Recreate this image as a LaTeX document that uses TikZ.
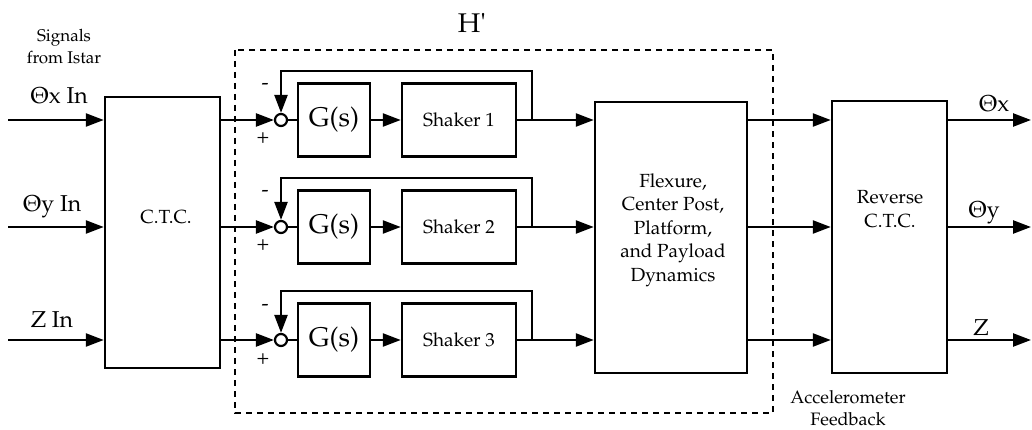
\documentclass[tikz,border=0pt]{standalone}
\usepackage[T1]{fontenc}
\usepackage{mathpazo}
\usetikzlibrary{arrows.meta}

\tikzset{
  wire/.style={line width=2.4pt},
  arr/.style={wire, -{Triangle[length=18pt,width=13pt]}},
  blk/.style={draw, line width=2.5pt, inner sep=0pt, align=center,
              font=\fontsize{19}{24}\selectfont},
  gblk/.style={blk, minimum width=72pt, minimum height=73pt,
               font=\fontsize{27}{30}\selectfont},
  shk/.style={blk, minimum width=114pt, minimum height=73pt},
  sumj/.style={draw, circle, line width=2.2pt, minimum size=12pt, inner sep=0pt},
  lbl/.style={inner sep=0pt, anchor=base, align=center,
              font=\fontsize{19}{23.5}\selectfont},
  biglbl/.style={lbl, font=\fontsize{23}{26}\selectfont},
  sgn/.style={lbl, font=\fontsize{21}{22}\selectfont},
  hbound/.style={line width=2.2pt, dash pattern=on 6pt off 5pt}
}

\begin{document}
\begin{tikzpicture}[x=1pt, y=-1pt]
\useasboundingbox (0,0) rectangle (1032,430);

% main blocks (multi-line labels are anchored at the baseline of their last line)
\node[blk, minimum width=115pt, minimum height=271pt] (ctc) at (162.5,232.5) {};
\node[lbl] (ctct) at (166,223) {C.T.C.};
\node[blk, minimum width=152pt, minimum height=271pt] (flex) at (671,237.5) {};
\node[lbl] (flext) at (673,281) {Flexure,\\ Center Post,\\ Platform,\\ and Payload\\ Dynamics};
\node[blk, minimum width=115pt, minimum height=272pt] (rev) at (889.5,237) {};
\node[lbl] (revt) at (890,227) {Reverse\\ C.T.C.};

% boundary of H'
\draw[hbound] (235,50) rectangle (773,413);
\node[lbl, font=\fontsize{27}{30}\selectfont] (hp) at (472,33) {H\textquotesingle};

% input labels
\node[lbl, font=\fontsize{17}{22}\selectfont] (sig) at (64,64) {Signals\\ from Istar};
\node[biglbl] (ixl) at (59,104) {$\Theta$x In};
\node[biglbl] (iyl) at (52,212) {$\Theta$y In};
\node[biglbl] (izl) at (52,327) {Z In};

% output labels
\node[biglbl] (oxl) at (994,112) {$\Theta$x};
\node[biglbl] (oyl) at (984,218) {$\Theta$y};
\node[biglbl] (ozl) at (981,335) {Z};

% accelerometer note
\node[lbl, font=\fontsize{18}{22}\selectfont] (acc) at (848,425) {Accelerometer\\ Feedback};

% three actuator loops
\foreach \i/\r in {1/120, 2/227, 3/340} {
  \coordinate (in\i) at (8,\r);
  \coordinate (out\i) at (1031,\r);
  \coordinate (tap\i) at (532,\r);
  \node[sumj] (s\i) at (281,\r) {};
  \node[gblk] (g\i) at (334,\r) {G(s)};
  \node[shk] (sh\i) at (459,\r) {Shaker \i};
  \node[sgn] (mn\i) at (265,\r-30) {-};
  \node[sgn] (pl\i) at (263,\r+24) {+};

  \draw[arr] (in\i) -- (ctc.west |- in\i);
  \draw[arr] (ctc.east |- s\i) -- (s\i.west);
  \draw[wire] (s\i.east) -- (g\i.west);
  \draw[arr] (g\i.east) -- (sh\i.west);
  \draw[arr] (sh\i.east) -- (flex.west |- sh\i);
  \draw[arr] (tap\i) -- ++(0,-49) -| (s\i.north);
  \draw[arr] (flex.east |- tap\i) -- (rev.west |- tap\i);
  \draw[arr] (rev.east |- out\i) -- (out\i);
}
\end{tikzpicture}
\end{document}
